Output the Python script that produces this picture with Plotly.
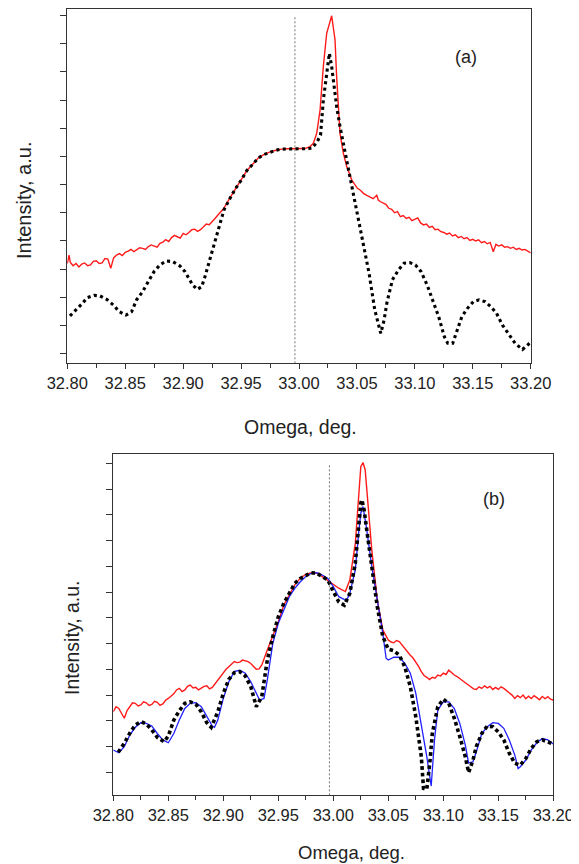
import plotly.graph_objects as go

# ---------------- DATA ----------------
# Panel (a): measured (red), simulated (black dots)
a_red_x = [32.8000, 32.8015, 32.8025, 32.8050, 32.8075, 32.8100, 32.8125, 32.8150, 32.8175, 32.8200,
           32.8225, 32.8250, 32.8275, 32.8300, 32.8325, 32.8350, 32.8375, 32.8400, 32.8425, 32.8450,
           32.8475, 32.8500, 32.8525, 32.8550, 32.8575, 32.8600, 32.8625, 32.8650, 32.8675, 32.8700,
           32.8725, 32.8750, 32.8775, 32.8800, 32.8825, 32.8850, 32.8875, 32.8900, 32.8925, 32.8950,
           32.8975, 32.9000, 32.9025, 32.9050, 32.9075, 32.9100, 32.9125, 32.9150, 32.9175, 32.9200,
           32.9225, 32.9250, 32.9275, 32.9300, 32.935, 32.940, 32.945, 32.950,
           32.955, 32.960, 32.965, 32.970, 32.975, 32.980, 32.985, 32.990, 32.995, 33.000, 33.005,
           33.0095, 33.0124, 33.0153, 33.0182, 33.0210, 33.0239, 33.0282, 33.0311, 33.0325, 33.0340,
           33.0354, 33.0383, 33.0412, 33.0455,
           33.0504, 33.0530, 33.0556, 33.0585, 33.0613, 33.0640, 33.0671, 33.0685, 33.0700, 33.0725,
           33.0750, 33.0775, 33.0800, 33.0825, 33.0850, 33.0875, 33.0900, 33.0925, 33.0950, 33.0975,
           33.1000, 33.1025, 33.1050, 33.1075, 33.1100, 33.1125, 33.1150, 33.1175, 33.1200, 33.1225,
           33.1250, 33.1275, 33.1300, 33.1325, 33.1350, 33.1375, 33.1400, 33.1425, 33.1450, 33.1475,
           33.1500, 33.1525, 33.1550, 33.1575, 33.1600, 33.1625, 33.1650, 33.1677, 33.1700, 33.1725,
           33.1750, 33.1775, 33.1800, 33.1825, 33.1850, 33.1875, 33.1900, 33.1925, 33.1950, 33.1975,
           33.2000]
a_red_y = [3.20, 3.50, 3.25, 3.12, 3.20, 3.08, 3.18, 3.22, 3.12, 3.15,
           3.28, 3.30, 3.20, 3.22, 3.38, 3.36, 3.03, 3.40, 3.50, 3.55,
           3.48, 3.60, 3.64, 3.70, 3.62, 3.68, 3.76, 3.74, 3.70, 3.80,
           3.86, 3.82, 3.78, 3.92, 3.96, 4.05, 3.98, 4.12, 4.20, 4.15,
           4.10, 4.27, 4.22, 4.30, 4.40, 4.42, 4.34, 4.40, 4.52, 4.60,
           4.58, 4.68, 4.80, 4.92, 5.15, 5.50, 5.85, 6.15,
           6.50, 6.72, 6.95, 7.07, 7.16, 7.22, 7.26, 7.27, 7.27, 7.27, 7.28,
           7.35, 7.47, 7.82, 8.65, 10.19, 11.37, 11.99, 11.14, 9.83, 8.65,
           7.82, 7.11, 6.64, 6.17,
           5.87, 5.80, 5.69, 5.62, 5.57, 5.50, 5.62, 5.45, 5.40, 5.34,
           5.30, 5.16, 5.12, 5.00, 5.04, 4.86, 4.90, 4.80, 4.84, 4.72,
           4.76, 4.82, 4.64, 4.57, 4.60, 4.48, 4.52, 4.40, 4.42, 4.33,
           4.30, 4.24, 4.28, 4.18, 4.22, 4.12, 4.16, 4.08, 4.12, 4.02,
           4.06, 4.00, 4.04, 3.94, 3.98, 3.90, 3.95, 3.62, 3.88, 3.82,
           3.86, 3.78, 3.80, 3.74, 3.78, 3.70, 3.74, 3.68, 3.70, 3.64,
           3.58]

a_sim_x = [32.8023, 32.8075, 32.8124, 32.8173, 32.8233, 32.8282, 32.8340, 32.8397, 32.8449, 32.8506,
           32.8555, 32.8598, 32.8650, 32.8699, 32.8748, 32.8800, 32.8852, 32.8909, 32.8973, 32.9016,
           32.9053, 32.9082, 32.9122, 32.9160, 32.9188, 32.9217, 32.9237, 32.9260, 32.9289, 32.9318,
           32.9352, 32.9404, 32.945, 32.950, 32.955, 32.960, 32.965, 32.970, 32.975, 32.980, 32.985,
           32.990, 32.995, 33.000, 33.005, 33.0110, 33.0153, 33.0186, 33.0210, 33.0262, 33.0282,
           33.0302, 33.0325, 33.0354, 33.0383, 33.0412, 33.0455, 33.0504, 33.0556, 33.0605, 33.0654,
           33.0706, 33.0735, 33.0758, 33.0806, 33.0858, 33.0907, 33.0956, 33.1005, 33.1054, 33.1106,
           33.1154, 33.1206, 33.1255, 33.1284, 33.1327, 33.1356, 33.1405, 33.1454, 33.1505, 33.1554,
           33.1605, 33.1655, 33.1706, 33.1755, 33.1804, 33.1865, 33.1929, 33.1990]
a_sim_y = [1.34, 1.55, 1.76, 1.99, 2.07, 2.05, 1.93, 1.73, 1.49, 1.37,
           1.49, 1.91, 2.20, 2.56, 2.91, 3.15, 3.29, 3.27, 3.11, 2.91,
           2.67, 2.44, 2.28, 2.38, 2.73, 3.15, 3.50, 3.86, 4.27, 4.69,
           5.10, 5.51, 5.85, 6.15, 6.50, 6.72, 6.95, 7.07, 7.16, 7.22, 7.26,
           7.27, 7.27, 7.27, 7.27, 7.29, 7.49, 7.76, 9.00, 10.66, 10.19,
           9.48, 8.77, 8.06, 7.47, 6.76, 5.93, 4.98, 3.92, 2.85, 1.55,
           0.72, 1.20, 1.79, 2.62, 2.97, 3.21, 3.23, 3.15, 2.91, 2.44,
           1.91, 1.31, 0.60, 0.37, 0.37, 0.72, 1.31, 1.61, 1.85, 1.91,
           1.85, 1.67, 1.43, 1.02, 0.72, 0.37, 0.15, 0.37]

# Panel (b): measured (red), fit (blue), simulated (black dots)
b_red_x = [32.8000, 32.8025, 32.8050, 32.8075, 32.8100, 32.8125, 32.8150, 32.8175, 32.8200, 32.8225,
           32.8250, 32.8275, 32.8300, 32.8325, 32.8350, 32.8375, 32.8400, 32.8425, 32.8450, 32.8475,
           32.8500, 32.8525, 32.8550, 32.8575, 32.8600, 32.8625, 32.8650, 32.8675, 32.8700, 32.8725,
           32.8750, 32.8775, 32.8800, 32.8825, 32.8850, 32.8875, 32.8900, 32.8925, 32.8950, 32.8975,
           32.9000, 32.9025, 32.9050, 32.9075, 32.9100, 32.9125, 32.9150, 32.9175, 32.9200, 32.9225,
           32.9250, 32.9275, 32.9300, 32.9325, 32.9350,
           32.940, 32.945, 32.950, 32.955, 32.960,
           32.965, 32.970, 32.975, 32.980, 32.985, 32.990, 32.995, 33.000, 33.005, 33.011, 33.015,
           33.020, 33.023, 33.025, 33.027, 33.029, 33.030, 33.035, 33.040, 33.045,
           33.0500, 33.0525, 33.0550, 33.0575, 33.0600, 33.0625, 33.0650, 33.0675, 33.0700, 33.0725,
           33.0750, 33.0775, 33.0800, 33.0825, 33.0850, 33.0875, 33.0900, 33.0925, 33.0950, 33.0975,
           33.1000, 33.1025, 33.1050, 33.1075, 33.1100, 33.1125, 33.1150, 33.1175, 33.1200, 33.1225,
           33.1250, 33.1275, 33.1300, 33.1325, 33.1350, 33.1375, 33.1400, 33.1425, 33.1450, 33.1475,
           33.1500, 33.1525, 33.1550, 33.1575, 33.1600, 33.1625, 33.1650, 33.1675, 33.1700, 33.1725,
           33.1750, 33.1775, 33.1800, 33.1825, 33.1850, 33.1875, 33.1900, 33.1925, 33.1950, 33.1975,
           33.2000]
b_red_y = [2.36, 2.55, 2.48, 2.30, 2.10, 2.40, 2.55, 2.70, 2.68, 2.58,
           2.62, 2.74, 2.70, 2.60, 2.64, 2.76, 2.72, 2.60, 2.66, 2.80,
           2.87, 2.95, 3.05, 3.20, 3.26, 3.14, 3.20, 3.34, 3.39, 3.28,
           3.30, 3.20, 3.26, 3.34, 3.36, 3.24, 3.30, 3.45, 3.59, 3.70,
           3.85, 4.00, 4.10, 4.22, 4.30, 4.26, 4.28, 4.36, 4.34, 4.30,
           4.23, 4.12, 4.00, 4.02, 4.17,
           4.75, 5.27, 5.85, 6.50, 6.89,
           7.28, 7.54, 7.69, 7.75, 7.73, 7.60, 7.44, 7.28, 7.15, 7.02, 7.47,
           8.89, 10.96, 11.87, 12.03, 11.74, 11.22, 8.63, 6.69, 5.53,
           5.14, 5.06, 5.03, 5.12, 5.08, 4.94, 4.81, 4.70, 4.55, 4.44,
           4.30, 4.12, 3.91, 3.76, 3.69, 3.60, 3.69, 3.66, 3.78, 3.74,
           3.85, 3.80, 3.97, 3.86, 3.78, 3.72, 3.65, 3.58, 3.48, 3.40,
           3.33, 3.24, 3.22, 3.32, 3.26, 3.36, 3.28, 3.34, 3.22, 3.30,
           3.22, 3.32, 3.26, 3.18, 3.09, 3.00, 2.87, 2.98, 2.90, 3.00,
           2.86, 2.96, 2.87, 2.98, 2.90, 2.82, 2.95, 2.86, 2.94, 2.84,
           2.81]

b_fit_x = [32.800, 32.805, 32.810, 32.815, 32.820, 32.825, 32.830, 32.835, 32.840, 32.845, 32.850,
           32.855, 32.860, 32.865, 32.870, 32.875, 32.880, 32.885, 32.890, 32.892, 32.895, 32.900,
           32.905, 32.910, 32.915, 32.920, 32.925, 32.930, 32.933, 32.937, 32.940, 32.945, 32.950,
           32.955, 32.960, 32.965, 32.970, 32.975, 32.980, 32.985, 32.990, 32.995, 33.000, 33.005,
           33.010, 33.012, 33.015, 33.020, 33.023, 33.025, 33.027, 33.030, 33.035, 33.040, 33.045,
           33.048, 33.050, 33.055, 33.060, 33.065, 33.070, 33.075, 33.080, 33.085, 33.089, 33.092,
           33.095, 33.100, 33.105, 33.110, 33.115, 33.120, 33.123, 33.127, 33.130, 33.135, 33.140,
           33.145, 33.150, 33.155, 33.160, 33.165, 33.168, 33.170, 33.175, 33.180, 33.185, 33.190,
           33.195, 33.200]
b_fit_y = [0.87, 0.76, 1.00, 1.45, 1.75, 1.93, 1.90, 1.80, 1.51, 1.26, 1.15,
           1.51, 2.03, 2.48, 2.68, 2.71, 2.55, 2.16, 1.80, 1.75, 2.03, 2.87,
           3.52, 3.91, 3.97, 3.85, 3.52, 3.07, 2.81, 2.87, 3.59, 5.01, 5.79,
           6.30, 6.82, 7.14, 7.40, 7.60, 7.73, 7.75, 7.66, 7.53, 7.21, 6.82,
           6.69, 6.67, 6.95, 7.86, 9.28, 10.06, 10.32, 9.54, 7.99, 6.69, 5.40,
           4.43, 4.36, 4.47, 4.47, 4.23, 3.85, 3.07, 1.90, 0.61, -0.53, 1.26,
           2.42, 2.74, 2.74, 2.48, 1.90, 1.06, 0.37, 0.41, 0.80, 1.51, 1.77,
           1.93, 1.90, 1.71, 1.26, 0.67, 0.15, 0.22, 0.48, 0.87, 1.15, 1.32,
           1.26, 1.10]

b_sim_x = [32.8045, 32.810, 32.815, 32.820, 32.825, 32.830, 32.835, 32.840, 32.846, 32.850, 32.855,
           32.860, 32.865, 32.870, 32.875, 32.880, 32.885, 32.889, 32.895, 32.900, 32.905, 32.910,
           32.915, 32.920, 32.925, 32.930, 32.935, 32.937, 32.940, 32.945, 32.950, 32.955, 32.960,
           32.965, 32.970, 32.975, 32.980, 32.985, 32.990, 32.995, 33.000, 33.005, 33.010, 33.015,
           33.020, 33.023, 33.025, 33.026, 33.028, 33.030, 33.035, 33.040, 33.045, 33.050, 33.055,
           33.060, 33.065, 33.070, 33.075, 33.080, 33.082, 33.085, 33.088, 33.090, 33.095, 33.100,
           33.105, 33.110, 33.115, 33.120, 33.123, 33.127, 33.130, 33.135, 33.140, 33.145, 33.150,
           33.155, 33.160, 33.165, 33.170, 33.175, 33.180, 33.185, 33.190, 33.195, 33.200]
b_sim_y = [0.78, 1.13, 1.52, 1.84, 1.97, 1.88, 1.65, 1.36, 1.19, 1.41, 2.03,
           2.39, 2.68, 2.74, 2.65, 2.35, 1.93, 1.75, 2.35, 3.07, 3.61, 3.87,
           3.91, 3.74, 3.33, 2.55, 2.94, 3.52, 4.36, 5.27, 6.04, 6.56, 6.95,
           7.34, 7.53, 7.66, 7.75, 7.73, 7.60, 7.47, 7.02, 6.62, 6.49, 6.95,
           8.12, 9.67, 10.45, 10.58, 10.19, 9.54, 7.99, 6.43, 5.27, 4.78, 4.72,
           4.55, 4.10, 3.33, 2.16, 0.61, -0.62, -0.66, 0.48, 1.51, 2.55, 2.84,
           2.68, 2.10, 1.39, 0.61, -0.01, 0.48, 1.00, 1.51, 1.80, 1.77, 1.57,
           1.26, 0.74, 0.35, 0.28, 0.54, 0.93, 1.19, 1.26, 1.19, 1.10]

x_ticks = [32.80, 32.85, 32.90, 32.95, 33.00, 33.05, 33.10, 33.15, 33.20]
x_tick_labels = ["32.80", "32.85", "32.90", "32.95", "33.00", "33.05", "33.10", "33.15", "33.20"]
x_minor_ticks = [32.825, 32.875, 32.925, 32.975, 33.025, 33.075, 33.125, 33.175]
y_ticks = list(range(13))
bragg_omega = 32.9965

# ---------------- FIGURE ----------------
# page body has an 8px margin, so the figure is 8px smaller than the window on each side
OFF = 8
W, H = 579 - OFF, 864 - OFF
FONT = "Liberation Sans, Arial, sans-serif"
AX = "#333333"

def px(x):
    return (x - OFF) / W

def py(y):
    return 1 - (y - OFF) / H

fig = go.Figure()
fig.add_trace(go.Scatter(x=a_red_x, y=a_red_y, mode="lines", line=dict(color="#ff1a1a", width=1.4),
                         xaxis="x", yaxis="y", showlegend=False))
fig.add_trace(go.Scatter(x=a_sim_x, y=a_sim_y, mode="lines", line=dict(color="black", width=3.1, dash="3.1px,3.3px"),
                         xaxis="x", yaxis="y", showlegend=False))
fig.add_trace(go.Scatter(x=b_red_x, y=b_red_y, mode="lines", line=dict(color="#ff1a1a", width=1.4),
                         xaxis="x2", yaxis="y2", showlegend=False))
fig.add_trace(go.Scatter(x=b_fit_x, y=b_fit_y, mode="lines", line=dict(color="#2020ff", width=1.3),
                         xaxis="x2", yaxis="y2", showlegend=False))
fig.add_trace(go.Scatter(x=b_sim_x, y=b_sim_y, mode="lines", line=dict(color="black", width=3.6, dash="3.6px,3px"),
                         xaxis="x2", yaxis="y2", showlegend=False))

def xax(domain, anchor):
    return dict(domain=domain, anchor=anchor, range=[32.8, 33.2], tickvals=x_ticks, ticktext=x_tick_labels,
                ticks="outside", ticklen=5, tickwidth=1, tickcolor=AX, showline=True, linecolor=AX,
                linewidth=1, mirror=True, showgrid=False, zeroline=False, automargin=False,
                tickfont=dict(family=FONT, size=16.5, color="#222"),
                minor=dict(tickvals=x_minor_ticks, ticks="outside", ticklen=4, tickwidth=1, tickcolor=AX))

def yax(domain, anchor, rng):
    return dict(domain=domain, anchor=anchor, range=rng, tickvals=y_ticks, showticklabels=False,
                ticks="outside", ticklen=6, tickwidth=1, tickcolor=AX, showline=True, linecolor=AX,
                linewidth=1, mirror=True, showgrid=False, zeroline=False, automargin=False)

fig.update_layout(
    width=W, height=H, margin=dict(l=0, r=0, t=0, b=0, autoexpand=False),
    paper_bgcolor="white", plot_bgcolor="white",
    xaxis=xax([px(67.3), px(530.7)], "y"),
    yaxis=yax([py(363.3), py(9.3)], "x", [-0.34, 12.22]),
    xaxis2=xax([px(113.3), px(553.3)], "y2"),
    yaxis2=yax([py(795.3), py(454)], "x2", [-0.89, 12.36]),
)

fig.add_shape(type="line", xref="x", yref="y", x0=bragg_omega, x1=bragg_omega, y0=-0.34, y1=12,
              line=dict(color="#555", width=0.8, dash="2px,2px"))
fig.add_shape(type="line", xref="x2", yref="y2", x0=bragg_omega, x1=bragg_omega, y0=-0.89, y1=12,
              line=dict(color="#555", width=0.8, dash="2px,2px"))

def ann(text, x, y, size, angle=0):
    fig.add_annotation(text=text, x=px(x), y=py(y), xref="paper", yref="paper", showarrow=False,
                       textangle=angle, font=dict(family=FONT, size=size, color="#222"),
                       xanchor="center", yanchor="middle")

ann("(a)", 466, 57, 18)
ann("(b)", 494, 499, 18)
ann("Intensity, a.u.", 24, 201, 20, -90)
ann("Intensity, a.u.", 72, 638, 19.5, -90)
ann("Omega, deg.", 300, 427, 19.5)
ann("Omega, deg.", 351, 852, 18.5)

fig.write_html("out.html")
